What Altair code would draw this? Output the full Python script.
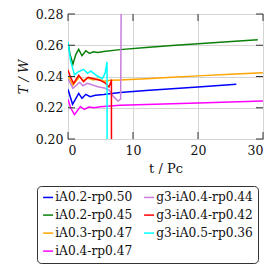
import altair as alt
import pandas as pd

# ---- data ----
names = ["iA0.2-rp0.50", "iA0.2-rp0.45", "iA0.3-rp0.47", "iA0.4-rp0.47",
         "g3-iA0.4-rp0.44", "g3-iA0.4-rp0.42", "g3-iA0.5-rp0.36"]
colors = ["#0000ff", "#0a800a", "#ffa500", "#ff00ff", "#c97ddd", "#ff0000", "#00ffff"]

t_blue = [0, 0.7, 1.65, 2.15, 2.75, 3.4, 4.2, 5.5, 8, 12, 16, 20, 25.9]
v_blue = [0.2318, 0.2222, 0.2292, 0.2260, 0.2286, 0.2271, 0.2280, 0.2285, 0.2297, 0.2310, 0.2322, 0.2333, 0.2350]

t_green = [0, 0.3, 0.75, 1.2, 1.65, 2.15, 2.75, 3.3, 3.9, 4.6, 5.5, 8, 12, 16, 20, 24, 29.2]
v_green = [0.2616, 0.2545, 0.2478, 0.2540, 0.2574, 0.2533, 0.2565, 0.2548, 0.2558, 0.2553, 0.2560, 0.2572, 0.2585, 0.2598, 0.2610, 0.2621, 0.2635]

t_orange = [0, 0.75, 1.8, 2.3, 3.0, 3.9, 4.6, 5.6, 6.5, 8, 12, 16, 20, 25, 30]
v_orange = [0.2404, 0.2345, 0.2400, 0.2372, 0.2390, 0.2378, 0.2384, 0.2370, 0.2376, 0.2378, 0.2386, 0.2395, 0.2404, 0.2414, 0.2424]

t_magenta = [0, 0.4, 1.0, 1.9, 2.5, 3.2, 4.0, 5.0, 8, 12, 16, 20, 25, 30]
v_magenta = [0.2254, 0.2200, 0.2156, 0.2208, 0.2190, 0.2205, 0.2200, 0.2207, 0.2216, 0.2221, 0.2226, 0.2231, 0.2237, 0.2243]

t_purple = [0, 0.75, 1.8, 2.3, 3.0, 4.6, 5.6, 6.3, 7.0, 7.7, 8.1, 8.2]
v_purple = [0.2384, 0.2325, 0.2363, 0.2341, 0.2356, 0.2335, 0.2326, 0.2314, 0.2271, 0.2243, 0.2255, 0.3000]

t_red = [0, 0.35, 0.85, 1.65, 2.4, 3.1, 4.0, 5.0, 5.8, 6.3, 6.6, 6.68, 6.7]
v_red = [0.2442, 0.2400, 0.2356, 0.2408, 0.2367, 0.2395, 0.2385, 0.2375, 0.2356, 0.2333, 0.2365, 0.2380, 0.1500]

t_cyan = [0, 0.4, 1.0, 1.5, 2.4, 3.0, 3.5, 4.5, 5.3, 5.7, 6.0, 6.03]
v_cyan = [0.2620, 0.2500, 0.2410, 0.2428, 0.2446, 0.2420, 0.2435, 0.2403, 0.2386, 0.2420, 0.2493, 0.1500]

x_ticks = [0, 10, 20, 30]
y_ticks = [0.20, 0.22, 0.24, 0.26, 0.28]

series = [
    (names[0], t_blue, v_blue),
    (names[1], t_green, v_green),
    (names[2], t_orange, v_orange),
    (names[3], t_magenta, v_magenta),
    (names[4], t_purple, v_purple),
    (names[5], t_red, v_red),
    (names[6], t_cyan, v_cyan),
]
rows = []
for name, ts, vs in series:
    for i, (t, v) in enumerate(zip(ts, vs)):
        rows.append({"series": name, "t": t, "v": v, "i": i})
df = pd.DataFrame(rows)

W, H = 195, 125
FONT = "DejaVu Serif"
TK = 7

xs = alt.Scale(domain=[0, 30], nice=False)
ys = alt.Scale(domain=[0.20, 0.28], nice=False)
xaxis = alt.Axis(values=x_ticks, title="t / Pc", format="d", labelOverlap=False)
yaxis = alt.Axis(values=y_ticks, title="T / W", format=".2f", labelOverlap=False)

lines = alt.Chart(df).mark_line(strokeWidth=1.5, clip=True).encode(
    x=alt.X("t:Q", scale=xs, axis=xaxis),
    y=alt.Y("v:Q", scale=ys, axis=yaxis),
    color=alt.Color("series:N",
                    scale=alt.Scale(domain=names, range=colors),
                    legend=alt.Legend(title=None, orient="none", columns=2,
                                      legendX=-31, legendY=172,
                                      gridAlign="each",
                                      symbolType="stroke", symbolSize=100,
                                      symbolStrokeWidth=1.5, labelOffset=1,
                                      columnPadding=8, rowPadding=5,
                                      padding=5, strokeColor="#333",
                                      cornerRadius=4, fillColor="white",
                                      labelFont=FONT, labelFontSize=12.2,
                                      labelColor="#111")),
    order="i:Q",
)

xt = pd.DataFrame({"x": x_ticks})
yt = pd.DataFrame({"y": y_ticks})
tick_top = alt.Chart(xt).mark_rule(color="#333").encode(
    x=alt.X("x:Q", scale=xs, axis=xaxis), y=alt.value(0), y2=alt.value(TK))
tick_bot = alt.Chart(xt).mark_rule(color="#333").encode(
    x=alt.X("x:Q", scale=xs, axis=xaxis), y=alt.value(H - TK), y2=alt.value(H))
tick_left = alt.Chart(yt).mark_rule(color="#333").encode(
    y=alt.Y("y:Q", scale=ys, axis=yaxis), x=alt.value(0), x2=alt.value(TK))
tick_right = alt.Chart(yt).mark_rule(color="#333").encode(
    y=alt.Y("y:Q", scale=ys, axis=yaxis), x=alt.value(W - TK), x2=alt.value(W))

chart = alt.layer(lines, tick_top, tick_bot, tick_left, tick_right).properties(
    width=W, height=H, padding={"left": 9, "top": 0, "right": 0, "bottom": 0}
).configure_view(stroke="#333", strokeWidth=1).configure_axis(
    domain=False, ticks=False, grid=True, gridColor="#d4d4d4", gridWidth=1,
    labelFont=FONT, labelFontSize=12.5, labelColor="#111", labelPadding=5,
    titleFont=FONT, titleFontSize=13, titleFontWeight="normal", titleColor="#111",
).configure_axisY(titleFontStyle="italic", titlePadding=5).configure_axisX(
    titlePadding=6)

chart.save("out.html", embed_options={"renderer": "svg", "actions": False})
